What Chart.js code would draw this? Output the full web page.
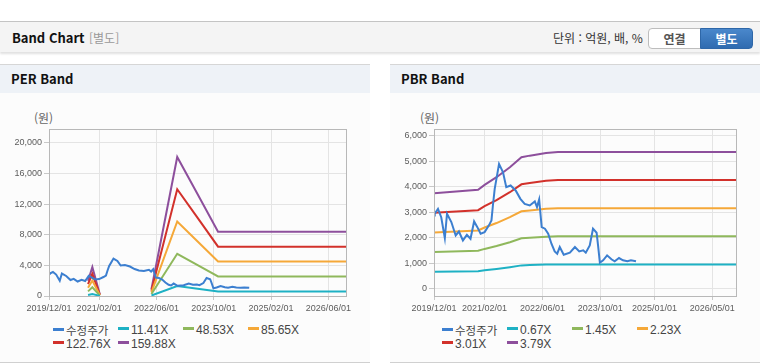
<!DOCTYPE html>
<html lang="ko">
<head>
<meta charset="utf-8">
<title>Band Chart</title>
<script src="https://cdn.jsdelivr.net/npm/chart.js"></script>
<style>
  body { margin: 0; width: 760px; height: 364px; overflow: hidden; background: #fff;
         font-family: 'Noto Sans CJK KR', 'Noto Sans', sans-serif; position: relative; }
  #top { position: absolute; left: 0; top: 21px; width: 760px; height: 30px; background: #f4f4f4;
         border-top: 1px solid #c4c4c4; box-shadow: 0 2px 2px rgba(0,0,0,0.12); }
  #top .title { position: absolute; left: 12px; top: 6px; font-size: 13px; font-weight: bold; color: #111; }
  #top .sub { position: absolute; left: 89px; top: 7px; font-size: 12px; color: #999; }
  #top .unit { position: absolute; left: 553px; top: 7px; font-size: 12px; color: #333; }
  .btn { position: absolute; top: 6px; width: 51px; height: 19px; font-size: 12px; font-weight: bold;
         text-align: center; line-height: 19px; }
  #b1 { left: 648px; background: #fff; border: 1px solid #bdbdbd; border-radius: 4px 0 0 4px; color: #555; width: 51px; }
  #b2 { left: 700px; background: linear-gradient(#4a88cc, #2f6bb0); border: 1px solid #2e67a8;
        border-radius: 0 4px 4px 0; color: #fff; }
  .panel { position: absolute; top: 64px; width: 370px; height: 297px; background: #fcfcfc;
           border-top: 1px solid #d6d6d6; border-bottom: 1px solid #d0d0d0; }
  .panel .head { height: 28px; background: #eef2f7; font-size: 13px; font-weight: bold; color: #111;
                 padding-left: 11px; line-height: 28px; }
  .panel canvas { position: absolute; left: 0; top: 35px; }
  .ylab { position: absolute; top: 44px; font-size: 12px; color: #666; }
  .legend { position: absolute; top: 259px; width: 270px; font-size: 12px; line-height: 13.5px;
            font-family: 'Liberation Sans', Arial, sans-serif; }
  .legend span { float: left; width: 65px; height: 13.5px; color: #444; white-space: nowrap; }
  .legend span.ko { font-family: 'Noto Sans CJK KR', sans-serif; font-size: 11.5px; }
  .legend i { display: inline-block; width: 11px; height: 3px; margin-right: 2px; vertical-align: 4px; }
</style>
</head>
<body>
<div id="top">
  <div class="title">Band Chart</div>
  <div class="sub">[별도]</div>
  <div class="unit">단위 : 억원, 배, %</div>
  <div class="btn" id="b1">연결</div>
  <div class="btn" id="b2">별도</div>
</div>
<div class="panel" style="left:0">
  <div class="head">PER Band</div>
  <div class="ylab" style="left:34px">(원)</div>
  <canvas id="perChart" width="370" height="216"></canvas>
  <div class="legend" id="perLegend" style="left:53px"></div>
</div>
<div class="panel" style="left:390px">
  <div class="head">PBR Band</div>
  <div class="ylab" style="left:30px">(원)</div>
  <canvas id="pbrChart" width="370" height="216"></canvas>
  <div class="legend" id="pbrLegend" style="left:52px"></div>
</div>
<script>
// x values are months counted from 2019/12
var priceMonths = [0, 0.2, 1.1, 2, 3, 3.6, 4.8, 6, 6.9, 8, 9.1, 10.1, 11.1, 12, 12.9, 14, 15.2, 15.9,
  16.3, 16.8, 18, 19.1, 20, 21.2, 22.6, 23.9, 25.1, 26.5, 27.9, 28.5, 29.1, 29.8, 30.7, 31.6, 32.5,
  33.4, 34.1, 34.8, 35.9, 37.6, 39, 40.2, 41.3, 42, 43.1, 44, 45, 45.4, 45.9, 46.8, 47.9, 49.1, 50,
  51.2, 52.3, 53.5, 54.5, 55.9];
var priceValues = [2870, 2940, 3130, 2800, 1980, 2935, 2610, 2085, 2240, 1890, 2110, 1955, 2635, 2410,
  2150, 2215, 2480, 2675, 3260, 3915, 4890, 4565, 3980, 4045, 3850, 3520, 3325, 3260, 3420, 3195,
  3495, 2410, 2350, 2150, 1760, 1460, 1370, 1630, 1330, 1410, 1630, 1460, 1500, 1410, 1695, 2350,
  2190, 1695, 1015, 1110, 1305, 1150, 1070, 1200, 1110, 1070, 1110, 1070];

var perNames = ['수정주가', '11.41X', '48.53X', '85.65X', '122.76X', '159.88X'];
var perMonths = [10.9, 12.1, 14.2, 20, 28.6, 35.8, 41.5, 47.2, 83.3];
var per1141 = [143, 269, 14, null, 63, 1295, 947, 599, 599];
var per4853 = [607, 1145, 58, null, 267, 5508, 4028, 2548, 2548];
var per8565 = [1071, 2021, 103, null, 471, 9721, 7109, 4497, 4497];
var per12276 = [1535, 2897, 147, null, 675, 13933, 10189, 6445, 6445];
var per15988 = [1999, 3773, 192, null, 879, 18146, 13270, 8394, 8394];
var perXTicks = ['2019/12/01', '2021/02/01', '2022/06/01', '2023/10/01', '2025/02/01', '2026/06/01'];
var perYTicks = [0, 4000, 8000, 12000, 16000, 20000];

var pbrNames = ['수정주가', '0.67X', '1.45X', '2.23X', '3.01X', '3.79X'];
var pbrMonths = [0, 12.2, 14, 17.3, 21, 24.2, 26.5, 31, 34.3, 84];
var pbr067 = [661, 685, 720, 773, 842, 911, 922, 941, 947, 947];
var pbr145 = [1431, 1482, 1557, 1672, 1821, 1971, 1995, 2036, 2050, 2050];
var pbr223 = [2201, 2279, 2395, 2571, 2801, 3031, 3068, 3131, 3153, 3153];
var pbr301 = [2971, 3076, 3233, 3471, 3781, 4091, 4142, 4226, 4256, 4256];
var pbr379 = [3741, 3873, 4070, 4370, 4760, 5151, 5215, 5321, 5359, 5359];
var pbrXTicks = ['2019/12/01', '2021/02/01', '2022/06/01', '2023/10/01', '2025/01/01', '2026/05/01'];
var pbrYTicks = [0, 1000, 2000, 3000, 4000, 5000, 6000];

var colors = ['#3c7fd0', '#1eb1c4', '#8fb85c', '#f5a838', '#d2312b', '#8d4f9c'];

function monthOf(label) {
  var p = label.split('/');
  return (p[0] - 2019) * 12 + (p[1] - 12);
}

function points(xs, ys) {
  return xs.map(function(x, i) { return { x: x, y: ys[i] }; });
}

var frame = {
  id: 'frame',
  afterDraw: function(chart) {
    var a = chart.chartArea, ctx = chart.ctx;
    ctx.save();
    ctx.strokeStyle = '#b8b8b8';
    ctx.lineWidth = 1;
    ctx.strokeRect(Math.round(a.left) + 0.5, Math.round(a.top) + 0.5,
      Math.round(a.right - a.left) - 1, Math.round(a.bottom - a.top));
    ctx.restore();
  }
};

var tickFont = { family: "'Liberation Sans', Arial, sans-serif", size: 9 };

function makeChart(id, legendId, names, series, xTicks, yTicks, yMin, yMax, xMax, axisW) {
  var datasets = series.map(function(s, i) {
    return {
      label: names[i], data: s, borderColor: colors[i], backgroundColor: colors[i],
      borderWidth: 2, pointRadius: 0, tension: 0, spanGaps: false
    };
  });
  var chart = new Chart(document.getElementById(id), {
    type: 'line',
    data: { datasets: datasets },
    plugins: [frame],
    options: {
      responsive: false,
      animation: false,
      layout: { padding: { top: 29, right: 23, left: 0, bottom: 0 } },
      plugins: { legend: { display: false }, tooltip: { enabled: false } },
      scales: {
        x: {
          type: 'linear', min: 0, max: xMax,
          afterBuildTicks: function(s) { s.ticks = xTicks.map(function(t) { return { value: monthOf(t) }; }); },
          afterFit: function(s) { s.height = 216 - 196; },
          ticks: {
            font: tickFont, color: '#5c5c5c', padding: 3, maxRotation: 0, autoSkip: false,
            callback: function(v) {
              for (var i = 0; i < xTicks.length; i++) { if (monthOf(xTicks[i]) === v) return xTicks[i]; }
              return '';
            }
          },
          grid: { color: '#e4e4e4', tickColor: '#c8c8c8', tickLength: 4 },
          border: { display: false }
        },
        y: {
          min: yMin, max: yMax,
          afterBuildTicks: function(s) { s.ticks = yTicks.map(function(v) { return { value: v }; }); },
          afterFit: function(s) { s.width = axisW; },
          ticks: {
            font: tickFont, color: '#5c5c5c', padding: 2,
            callback: function(v) { return v.toLocaleString('en-US'); }
          },
          grid: { color: '#e4e4e4', tickColor: '#c8c8c8', tickLength: 5 },
          border: { display: false }
        }
      }
    }
  });
  var box = document.getElementById(legendId);
  chart.data.datasets.forEach(function(d) {
    var item = document.createElement('span');
    if (/[^\x00-\x7f]/.test(d.label)) item.className = 'ko';
    item.innerHTML = '<i style="background:' + d.borderColor + '"></i>' + d.label;
    box.appendChild(item);
  });
  return chart;
}

makeChart('perChart', 'perLegend', perNames, [
  points(priceMonths, priceValues),
  points(perMonths, per1141), points(perMonths, per4853), points(perMonths, per8565),
  points(perMonths, per12276), points(perMonths, per15988)
], perXTicks, perYTicks, 0, 21800, 83.2, 49);

makeChart('pbrChart', 'pbrLegend', pbrNames, [
  points(priceMonths, priceValues),
  points(pbrMonths, pbr067), points(pbrMonths, pbr145), points(pbrMonths, pbr223),
  points(pbrMonths, pbr301), points(pbrMonths, pbr379)
], pbrXTicks, pbrYTicks, -290, 6260, 83.85, 44);
</script>
</body>
</html>
